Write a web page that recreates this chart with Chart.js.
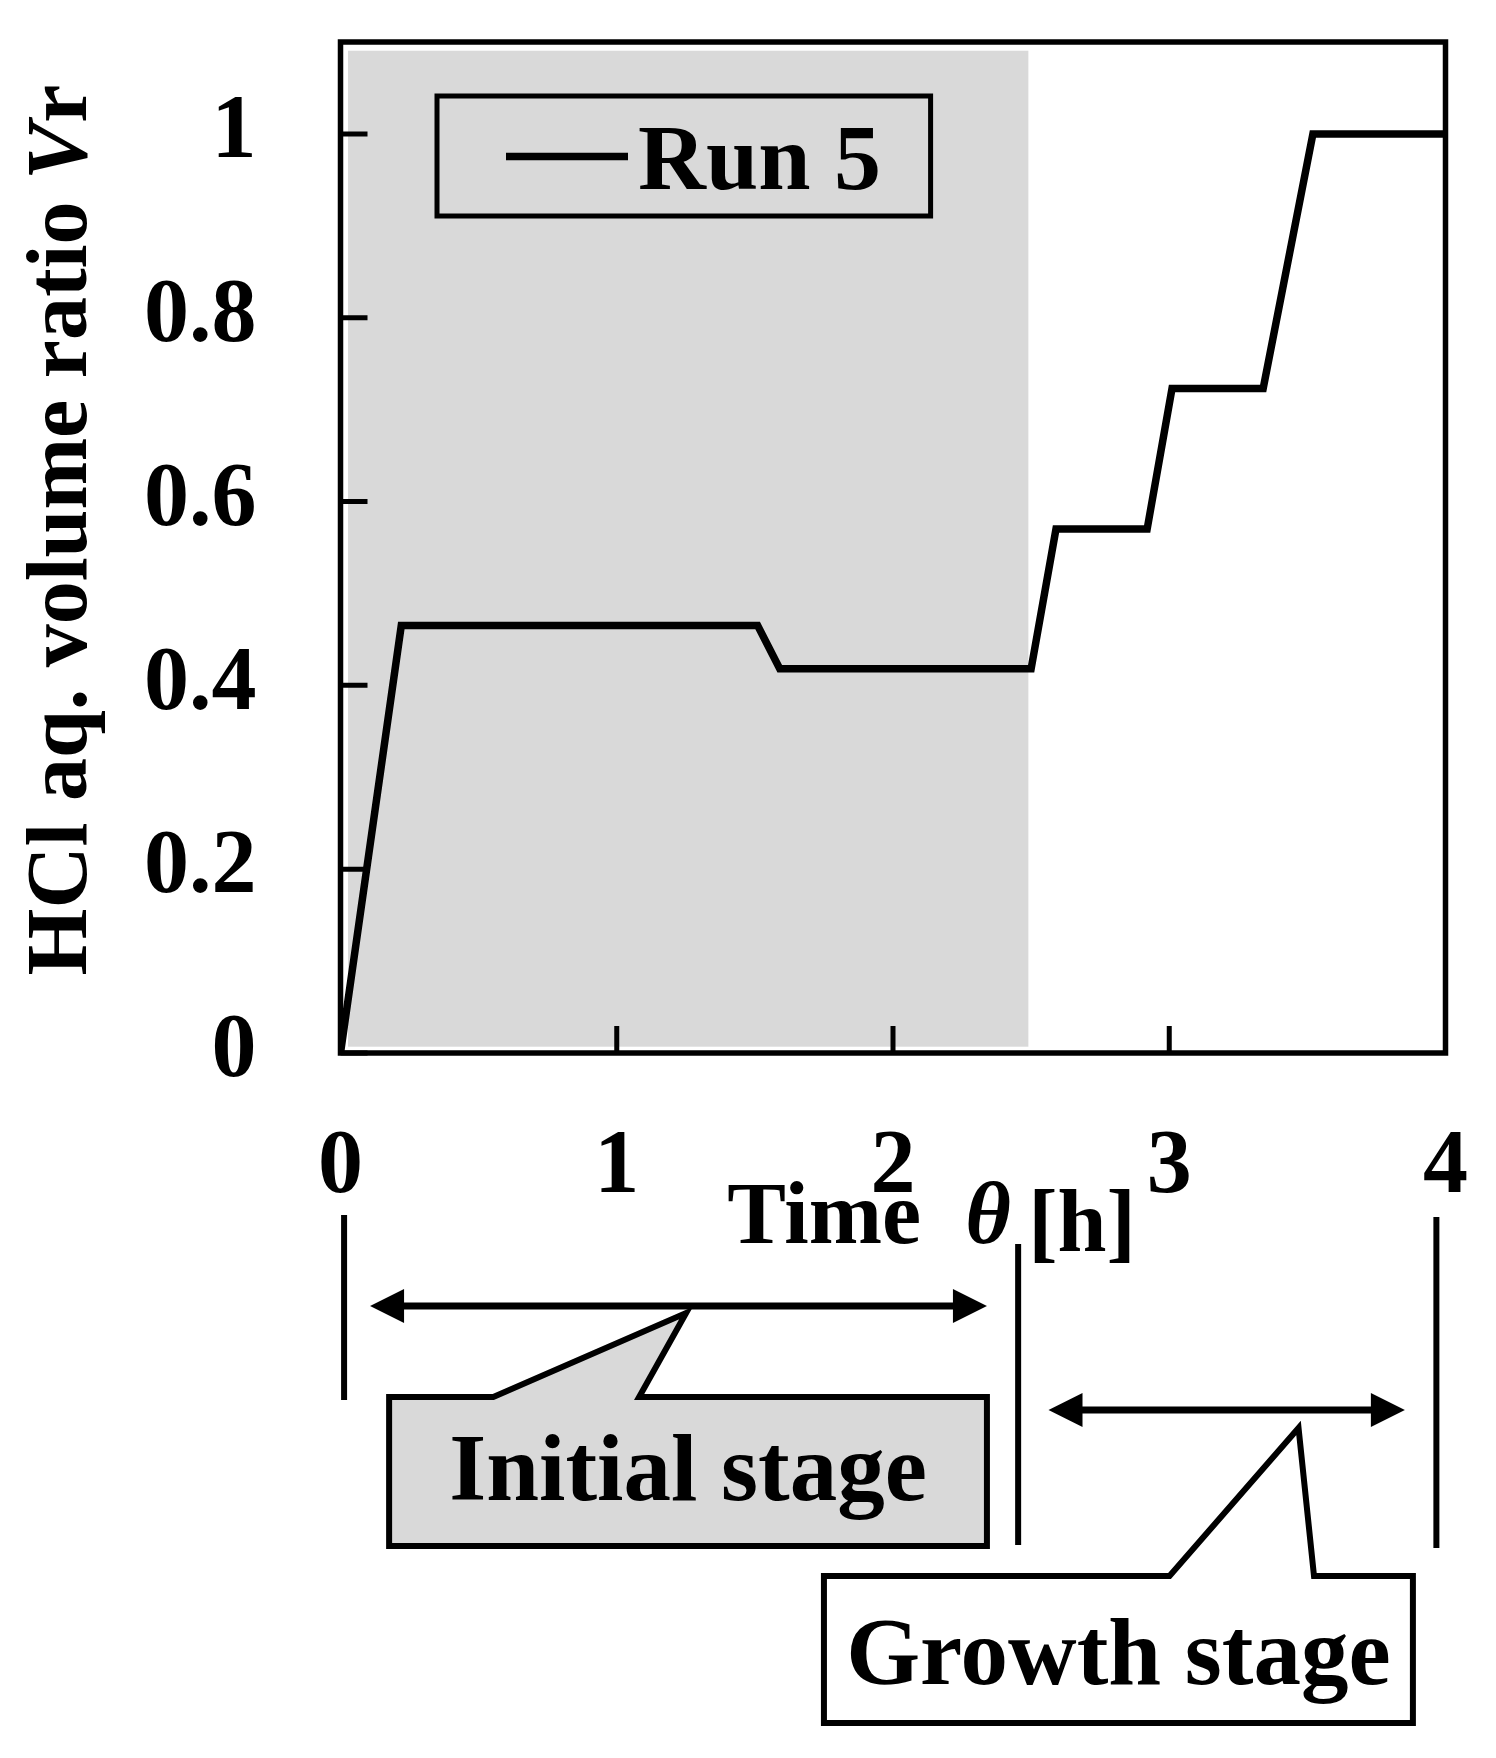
<!DOCTYPE html>
<html>
<head>
<meta charset="utf-8">
<title>HCl aq. volume ratio - Run 5</title>
<script src="https://cdn.jsdelivr.net/npm/chart.js@4.4.1/dist/chart.umd.min.js"></script>
<style>
  html, body { margin: 0; padding: 0; background: #fff; }
  canvas { display: block; }
</style>
</head>
<body>
<canvas id="chart" width="1496" height="1758"></canvas>
<script>
// Run 5: time [h] vs HCl aq. volume ratio Vr
const timeH = [0, 0.22, 1.51, 1.59, 2.5, 2.59, 2.92, 3.01, 3.34, 3.52, 4];
const volumeRatio = [0, 0.465, 0.465, 0.418, 0.418, 0.57, 0.57, 0.723, 0.723, 1, 1];
const xTicks = [0, 1, 2, 3, 4];
const yTicks = [0, 0.2, 0.4, 0.6, 0.8, 1];
const yTickLabels = ['0', '0.2', '0.4', '0.6', '0.8', '1'];
const seriesLabel = 'Run 5';
const initialStageEnd = 2.49; // end of the shaded initial stage [h]
const stageLabels = ['Initial stage', 'Growth stage'];
const yTitle = [{ text: 'HCl aq. volume ratio ' }, { text: 'V', italic: true }, { text: 'r' }];

const SERIF = "'Liberation Serif', 'Times New Roman', serif";
const font = (size, italic) => (italic ? 'italic ' : '') + 'bold ' + size + 'px ' + SERIF;

// double headed arrow
function arrow(ctx, xa, xb, y) {
  const head = 34, half = 17;
  ctx.beginPath();
  ctx.moveTo(xa + head - 4, y);
  ctx.lineTo(xb - head + 4, y);
  ctx.stroke();
  ctx.beginPath();
  ctx.moveTo(xa, y); ctx.lineTo(xa + head, y - half); ctx.lineTo(xa + head, y + half);
  ctx.closePath(); ctx.fill();
  ctx.beginPath();
  ctx.moveTo(xb, y); ctx.lineTo(xb - head, y - half); ctx.lineTo(xb - head, y + half);
  ctx.closePath(); ctx.fill();
}

// box with a speech-bubble pointer on its top edge
function callout(ctx, box, base1, base2, tip, fill) {
  ctx.beginPath();
  ctx.moveTo(box.l, box.t);
  ctx.lineTo(base1, box.t);
  ctx.lineTo(tip.x, tip.y);
  ctx.lineTo(base2, box.t);
  ctx.lineTo(box.r, box.t);
  ctx.lineTo(box.r, box.b);
  ctx.lineTo(box.l, box.b);
  ctx.closePath();
  ctx.fillStyle = fill;
  ctx.fill();
  ctx.stroke();
}

// keep the plot frame where the figure has it, labels may hang over
function noEdgePadding(s) {
  s.paddingTop = 0; s.paddingBottom = 0; s.paddingLeft = 0; s.paddingRight = 0;
}

const stagePlugin = {
  id: 'stages',
  beforeDatasetsDraw(chart) {
    const { ctx, chartArea: a, scales: { x } } = chart;
    ctx.save();
    ctx.fillStyle = '#d9d9d9';
    const x0 = a.left + 7.5;
    ctx.fillRect(x0, a.top + 8.7, x.getPixelForValue(initialStageEnd) - x0, a.bottom - a.top - 15);
    ctx.restore();
  },
  afterDatasetsDraw(chart) {
    const { ctx, chartArea: a, scales: { x, y } } = chart;
    ctx.save();
    ctx.strokeStyle = '#000';
    ctx.fillStyle = '#000';
    ctx.lineJoin = 'miter';
    // frame
    ctx.lineWidth = 5.5;
    ctx.strokeRect(a.left, a.top, a.right - a.left, a.bottom - a.top);
    // inward ticks
    ctx.lineWidth = 5;
    ctx.beginPath();
    x.ticks.forEach(t => {
      const px = x.getPixelForValue(t.value);
      ctx.moveTo(px, a.bottom); ctx.lineTo(px, a.bottom - 27);
    });
    y.ticks.forEach(t => {
      const py = y.getPixelForValue(t.value);
      ctx.moveTo(a.left, py); ctx.lineTo(a.left + 27, py);
    });
    ctx.stroke();
    // legend
    const ds = chart.data.datasets[0];
    const lx = a.left + 96.5, ly = a.top + 54;
    ctx.lineWidth = 5;
    ctx.strokeRect(lx, ly, 493.6, 120);
    ctx.lineWidth = ds.borderWidth;
    ctx.strokeStyle = ds.borderColor;
    ctx.beginPath();
    ctx.moveTo(lx + 69, ly + 60.6); ctx.lineTo(lx + 191, ly + 60.6);
    ctx.stroke();
    ctx.font = font(94);
    ctx.textBaseline = 'alphabetic';
    ctx.fillText(ds.label, lx + 201, ly + 93);
    ctx.restore();
  },
  afterDraw(chart) {
    const { ctx, chartArea: a, scales: { x } } = chart;
    const px = v => x.getPixelForValue(v);
    const b = a.bottom;
    ctx.save();
    ctx.fillStyle = '#000';
    ctx.strokeStyle = '#000';
    ctx.textBaseline = 'alphabetic';

    // y axis title, rotated
    ctx.save();
    ctx.translate(86, 530);
    ctx.rotate(-Math.PI / 2);
    let w = 0;
    yTitle.forEach(p => { ctx.font = font(86, p.italic); w += ctx.measureText(p.text).width; });
    let cx = -w / 2;
    yTitle.forEach(p => {
      ctx.font = font(86, p.italic);
      ctx.fillText(p.text, cx, 0);
      cx += ctx.measureText(p.text).width;
    });
    ctx.restore();

    // x axis title: Time θ [h]
    const tx = px(1.4), ty = b + 190;
    ctx.font = font(88);
    ctx.fillText('Time', tx, ty);
    ctx.font = font(88, true);
    ctx.fillText('\u03b8', tx + 238, ty);
    ctx.font = font(88);
    ctx.fillText('[h]', tx + 301, ty + 8);

    // stage boundaries
    ctx.lineWidth = 6;
    ctx.beginPath();
    ctx.moveTo(px(0.013), b + 162); ctx.lineTo(px(0.013), b + 347);
    ctx.moveTo(px(2.453), b + 191); ctx.lineTo(px(2.453), b + 492);
    ctx.moveTo(px(3.967), b + 164); ctx.lineTo(px(3.967), b + 495);
    ctx.stroke();

    // stage arrows
    ctx.lineWidth = 7;
    arrow(ctx, px(0.107), px(2.34), b + 253);
    arrow(ctx, px(2.563), px(3.853), b + 357);

    // callouts
    ctx.lineWidth = 6;
    ctx.lineJoin = 'miter';
    const box1 = { l: px(0.176), r: px(2.34), t: b + 344, b: b + 493 };
    const box2 = { l: px(1.75), r: px(3.882), t: b + 523, b: b + 670 };
    callout(ctx, box1, px(0.553), px(1.081), { x: px(1.251), y: b + 260 }, '#d9d9d9');
    callout(ctx, box2, px(3.001), px(3.524), { x: px(3.468), y: b + 375 }, '#fff');

    ctx.fillStyle = '#000';
    ctx.font = font(95);
    ctx.textAlign = 'center';
    ctx.fillText(stageLabels[0], (box1.l + box1.r) / 2, b + 447);
    ctx.fillText(stageLabels[1], (box2.l + box2.r) / 2, b + 631);
    ctx.restore();
  }
};

new Chart(document.getElementById('chart'), {
  type: 'line',
  data: {
    datasets: [{
      label: seriesLabel,
      data: timeH.map((t, i) => ({ x: t, y: volumeRatio[i] })),
      borderColor: '#000',
      borderWidth: 7.5,
      borderJoinStyle: 'miter',
      pointRadius: 0,
      tension: 0,
      fill: false
    }]
  },
  options: {
    responsive: false,
    animation: false,
    devicePixelRatio: 1,
    layout: { padding: { top: 42, right: 50.5, left: 0, bottom: 0 } },
    plugins: {
      legend: { display: false },
      tooltip: { enabled: false }
    },
    scales: {
      x: {
        type: 'linear',
        min: 0,
        max: 4,
        afterBuildTicks: s => { s.ticks = xTicks.map(v => ({ value: v })); },
        afterFit: s => { s.height = 705; noEdgePadding(s); },
        grid: { display: false, drawTicks: false },
        border: { display: false },
        ticks: {
          color: '#000',
          font: { family: SERIF, size: 90, weight: 'bold' },
          padding: 62,
          autoSkip: false,
          maxRotation: 0
        }
      },
      y: {
        type: 'linear',
        min: 0,
        max: 1.1,
        afterBuildTicks: s => { s.ticks = yTicks.map(v => ({ value: v })); },
        afterFit: s => { s.width = 340.5; noEdgePadding(s); },
        grid: { display: false, drawTicks: false },
        border: { display: false },
        ticks: {
          color: '#000',
          font: { family: SERIF, size: 90, weight: 'bold' },
          padding: 84,
          autoSkip: false,
          callback: (v, i) => yTickLabels[i]
        }
      }
    }
  },
  plugins: [stagePlugin]
});
</script>
</body>
</html>
